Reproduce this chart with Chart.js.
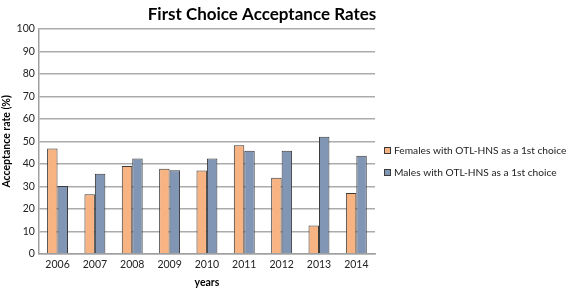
<!DOCTYPE html>
<html>
<head>
<meta charset="utf-8">
<script src="https://cdn.jsdelivr.net/npm/chart.js@4/dist/chart.umd.min.js"></script>
<style>
    html, body { margin: 0; padding: 0; background: #fff; }
    #wrap { width: 567px; height: 290px; }
</style>
</head>
<body>
<div id="wrap"><canvas id="rateChart" width="567" height="290"></canvas></div>
<script>
var years = ["2006", "2007", "2008", "2009", "2010", "2011", "2012", "2013", "2014"];
var females = [46.8, 26.5, 39.1, 37.8, 37.0, 48.3, 33.8, 12.6, 27.0];
var males = [30.2, 35.6, 42.4, 37.2, 42.4, 45.8, 45.8, 52.1, 43.6];
var seriesNames = ["Females with OTL-HNS as a 1st choice", "Males with OTL-HNS as a 1st choice"];
var yTicks = [0, 10, 20, 30, 40, 50, 60, 70, 80, 90, 100];
var chartTitle = "First Choice Acceptance Rates";

var fontFace = "Lato, 'Open Sans', sans-serif";

// title and legend sit where the spreadsheet put them, not where Chart.js would
var sideLabels = {
    id: "sideLabels",
    afterDraw: function (chart) {
        var c = chart.ctx;
        c.save();
        c.fillStyle = "#000";
        c.font = "bold 17px " + fontFace;
        c.textAlign = "center";
        c.textBaseline = "middle";
        c.fillText(chartTitle, 262, 15);

        var x = chart.chartArea.right + 9;
        var y = 151;
        c.font = "10.2px " + fontFace;
        c.textAlign = "left";
        chart.data.datasets.forEach(function (ds, i) {
            var yy = y + i * 22;
            c.fillStyle = ds.backgroundColor;
            c.fillRect(x, yy - 4, 7, 7);
            c.strokeStyle = ds.borderColor;
            c.lineWidth = 1;
            c.strokeRect(x + 0.5, yy - 3.5, 6, 6);
            c.fillStyle = "#222";
            c.fillText(ds.label, x + 10, yy);
        });
        c.restore();
    }
};

var ctx = document.getElementById("rateChart").getContext("2d");
new Chart(ctx, {
    type: "bar",
    data: {
        labels: years,
        datasets: [
            {
                label: seriesNames[0],
                data: females,
                backgroundColor: "#f8b383",
                borderColor: "#3a3a3a",
                borderWidth: 1
            },
            {
                label: seriesNames[1],
                data: males,
                backgroundColor: "#8195b4",
                borderColor: "#3a3a3a",
                borderWidth: 1
            }
        ]
    },
    options: {
        responsive: false,
        animation: false,
        layout: { padding: { top: 29, right: 192, left: 0, bottom: 1 } },
        datasets: {
            bar: { categoryPercentage: 0.56, barPercentage: 1.0 }
        },
        plugins: {
            title: { display: false },
            legend: { display: false },
            tooltip: { enabled: false }
        },
        scales: {
            x: {
                grid: { display: false, drawTicks: false },
                border: { color: "#a0a0a0", width: 1.5 },
                ticks: { color: "#222", padding: 5, font: { family: fontFace, size: 10.5 } },
                title: {
                    display: true,
                    text: "years",
                    color: "#000",
                    padding: { top: 0, bottom: 0 },
                    font: { family: fontFace, size: 10.5, weight: "bold" }
                }
            },
            y: {
                min: 0,
                max: 100,
                afterBuildTicks: function (axis) {
                    axis.ticks = yTicks.map(function (v) { return { value: v }; });
                },
                grid: { color: "#ababab", lineWidth: 1.5, drawTicks: false },
                border: { color: "#a0a0a0", width: 1.5 },
                ticks: { color: "#222", padding: 4, font: { family: fontFace, size: 10.5 } },
                title: {
                    display: true,
                    text: "Acceptance rate (%)",
                    color: "#000",
                    padding: { top: 0, bottom: 0 },
                    font: { family: fontFace, size: 10.5, weight: "bold" }
                }
            }
        }
    },
    plugins: [sideLabels]
});
</script>
</body>
</html>
